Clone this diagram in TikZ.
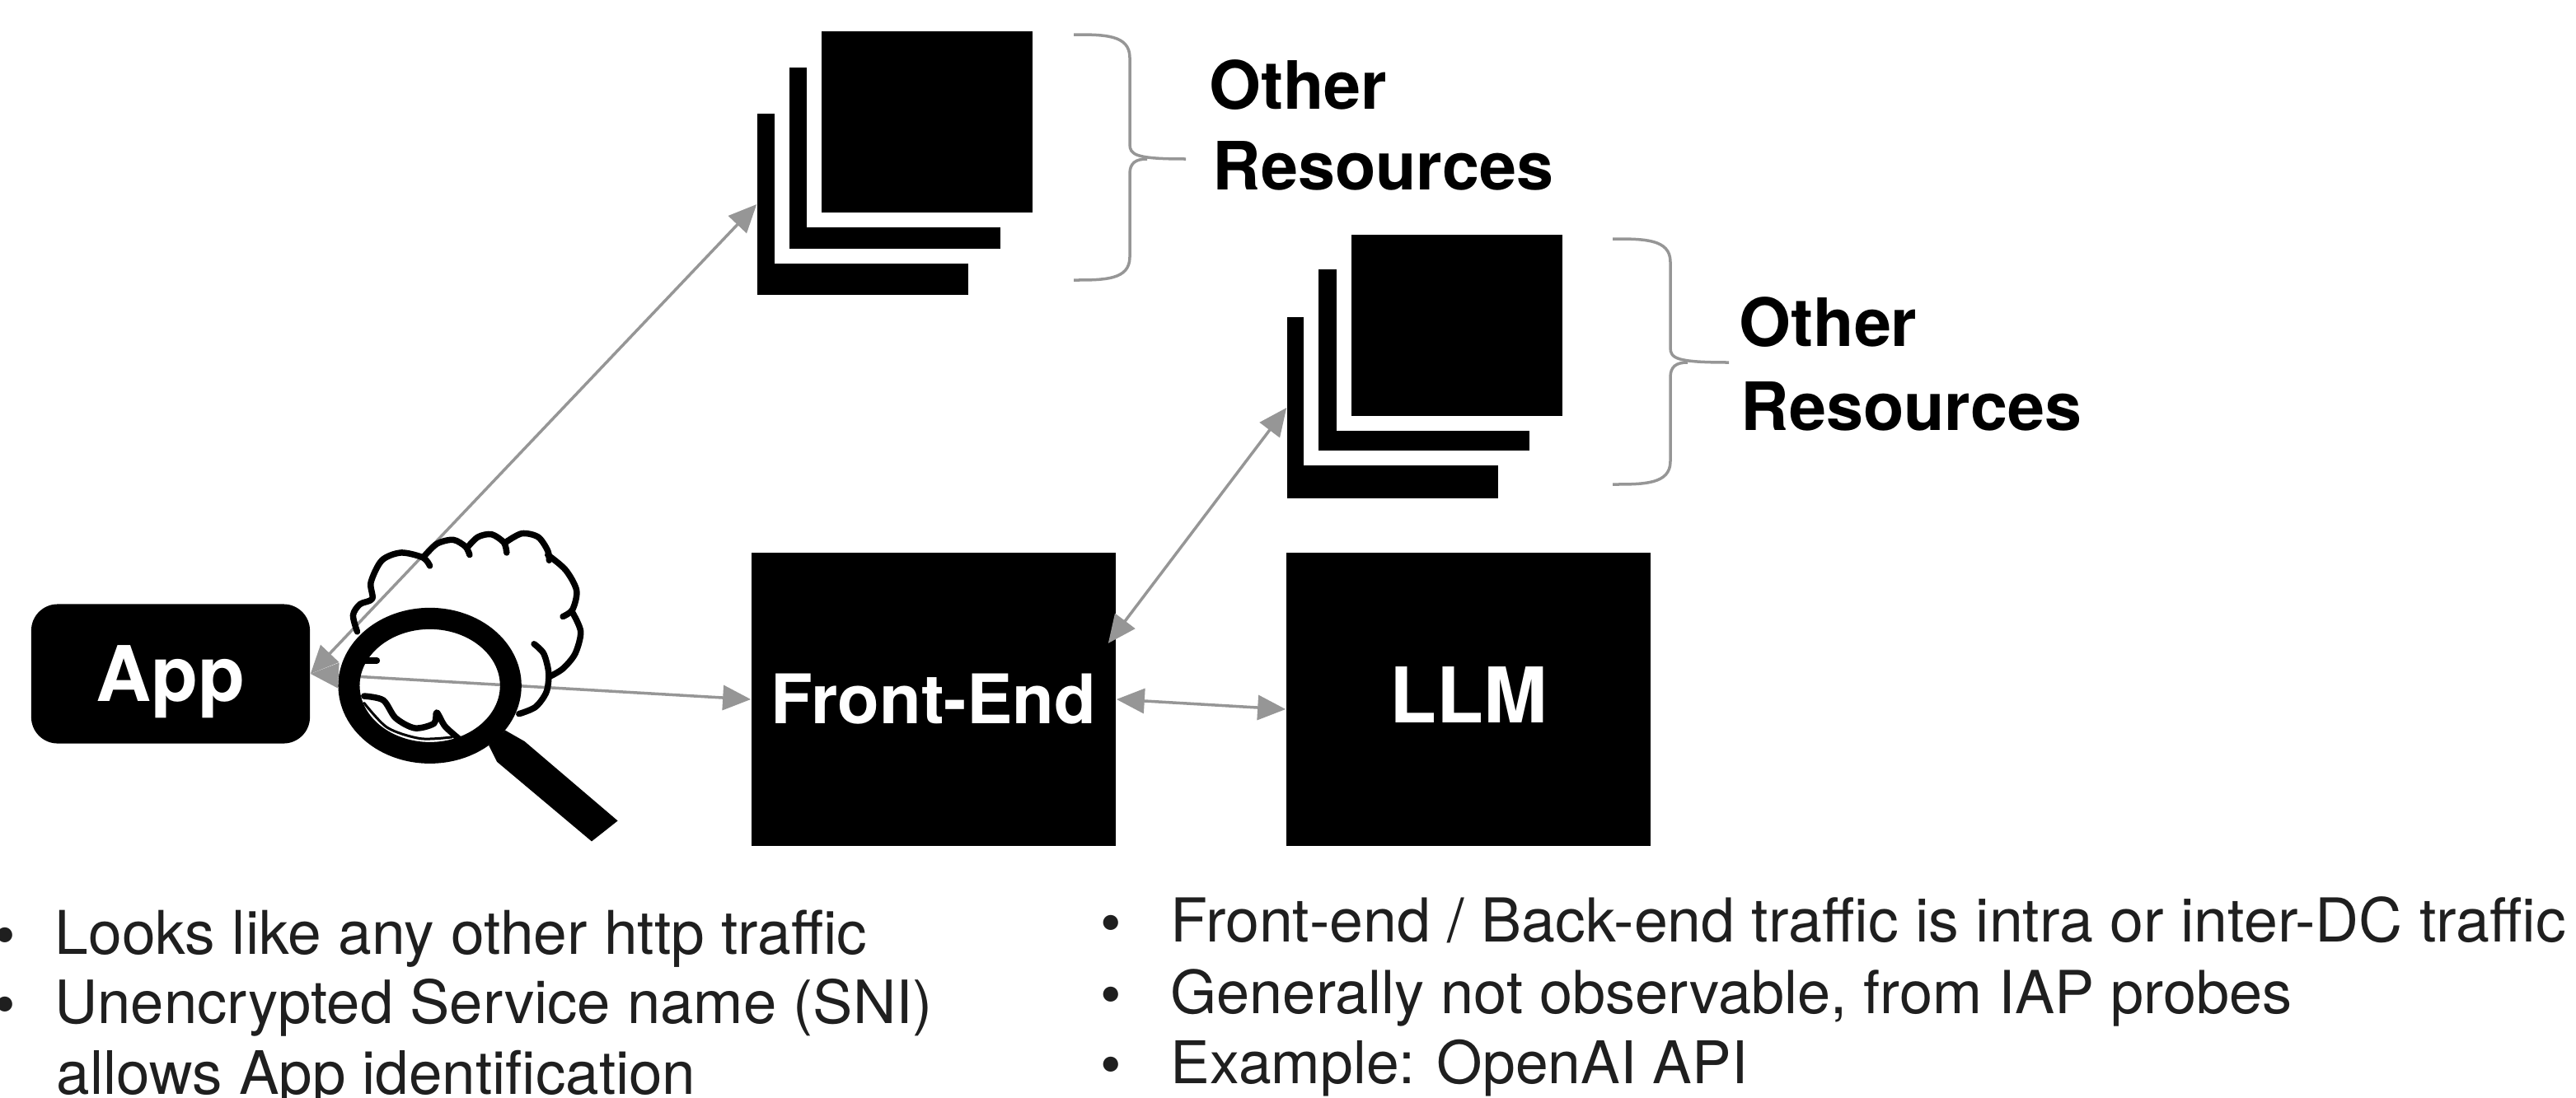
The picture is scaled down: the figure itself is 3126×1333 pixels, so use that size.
\documentclass[tikz,border=0pt]{standalone}
\usepackage{fontspec}
\setmainfont{TeX Gyre Heros}
\usetikzlibrary{arrows.meta}
\definecolor{linkgray}{HTML}{969696}
\tikzset{
  sheet/.style={preaction={draw=white,line width=.36cm},fill=black,inner sep=0pt,minimum width=2.56cm,minimum height=2.2cm},
  tile/.style={fill=black,text=white,inner sep=0pt,font=\bfseries\fontsize{26.5}{30}\selectfont,minimum width=4.42cm,minimum height=3.55cm},
  link/.style={linkgray,line width=.035cm,{Triangle[length=.34cm,width=.3cm]}-{Triangle[length=.34cm,width=.3cm]}},
  curly/.style={linkgray,line width=.035cm,line join=round},
  reslabel/.style={anchor=base west,inner sep=0pt,font=\bfseries\fontsize{23}{28}\selectfont},
  bullettext/.style={anchor=base west,inner sep=0pt,text=black!88,font=\fontsize{#1}{24}\selectfont},
  bullettext/.default=20.7,
  cloudline/.style={line width=.075cm,line cap=round,line join=round}
}
\begin{document}
\begin{tikzpicture}[x=.01cm,y=-.01cm]
\useasboundingbox (0,0) rectangle (3126,1333);
% the two stacks of resources, drawn from the back to the front
\node[sheet] (resa3) at (1047,248) {};
\node[sheet] (resa2) at (1086,192) {};
\node[sheet] (resa1) at (1125,148) {};
\node[sheet] (resb3) at (1690,495) {};
\node[sheet] (resb2) at (1728,437) {};
\node[sheet] (resb1) at (1768,395) {};
% the boxes on the middle row
\node[tile,rounded corners=.32cm,minimum width=3.38cm,minimum height=1.69cm,text depth=0pt] (app) at (207,818) {App};
\node[tile,font=\bfseries\fontsize{23.6}{26}\selectfont] (fe) at (1133,849) {Front-End};
\node[tile,text depth=.1cm] (llm) at (1782,849) {LLM};
% the maps between them
\draw[link] (app.east) -- (resa3.west);
\draw[link] (app.east) -- (fe.west);
\draw[link] (fe.east) -- ([yshift=-.12cm]llm.west);
\draw[link] ([shift={(-.1cm,.68cm)}]fe.east) -- (resb3.west);
% braces, each one closed by a short tick towards its label
\coordinate (bracea) at (1439,193);
\coordinate (braceb) at (2098,440);
\draw[curly] (1303,42) .. controls (1340,42) and (1371,42) .. (1371,70) -- (1371,175) .. controls (1371,188) and (1378,193) .. (bracea);
\draw[curly] (1303,340) .. controls (1340,340) and (1371,340) .. (1371,312) -- (1371,211) .. controls (1371,198) and (1378,193) .. (1392,193);
\draw[curly] (1957,290) .. controls (1995,290) and (2027,290) .. (2027,318) -- (2027,422) .. controls (2027,435) and (2034,440) .. (braceb);
\draw[curly] (1957,588) .. controls (1995,588) and (2027,588) .. (2027,560) -- (2027,458) .. controls (2027,445) and (2034,440) .. (2048,440);
\node[reslabel] (othera) at (1467,132) {Other};
\node[reslabel] (resourcesa) at (1471,230) {Resources};
\node[reslabel] (otherb) at (2110,420) {Other};
\node[reslabel] (resourcesb) at (2112,522) {Resources};
% cloud and magnifier, in coordinates of a 3x crop of the lens
\begin{scope}[shift={(3.70cm,-6.30cm)},x=.003333cm,y=-.003333cm]
\draw[cloudline] plot[smooth] coordinates {(190,410) (175,350) (200,310) (245,290) (240,230) (280,150) (350,122) (430,140) (455,170)};
\draw[cloudline] plot[smooth] coordinates {(430,140) (480,90) (540,75) (585,100) (600,130)};
\draw[cloudline] plot[smooth] coordinates {(590,105) (630,65) (680,55) (725,85) (735,122)};
\draw[cloudline] plot[smooth] coordinates {(730,85) (790,52) (850,65) (885,115) (890,150)};
\draw[cloudline] plot[smooth] coordinates {(885,130) (950,185) (990,260) (975,330) (940,355)};
\draw[cloudline] plot[smooth] coordinates {(975,340) (1005,410) (985,490) (940,545) (890,575)};
\draw[cloudline] plot[smooth] coordinates {(835,455) (870,490) (888,560) (880,630) (840,685) (780,710)};
\draw[cloudline] plot[smooth] coordinates {(220,515) (262,515)};
\draw[cloudline] plot[smooth] coordinates {(215,645) (285,660) (330,725) (400,762) (470,745) (480,705) (510,755) (560,800)};
\draw[line width=.03cm,line cap=round] plot[smooth] coordinates {(215,670) (300,760) (420,800) (535,795)};
\draw[line width=.26cm] (455,607) ellipse (295 and 245);
\fill (670,825) -- (730,770) -- (800,810) -- (1140,1100) -- (1045,1175) -- (700,885) -- cycle;
\end{scope}
% the notes under the picture, the size differs a little per line
\foreach \ypos/\fsize/\note in {1158/20.8/{Looks like any other http traffic},1242/20.6/{Unencrypted Service name (SNI)}} {
\node[bullettext] at (-7,\ypos-15) [anchor=west] {•};
\node[bullettext=\fsize] at (66,\ypos) {\note};
}
\node[bullettext] (allows) at (68,1328) {allows App identification};
\foreach \ypos/\fsize/\note in {1143/20.9/{Front-end / Back-end traffic is intra or inter-DC traffic},1230/20.5/{Generally not observable, from IAP probes},1315/20.3/{Example: OpenAI API}} {
\node[bullettext] at (1335,\ypos-15) [anchor=west] {•};
\node[bullettext=\fsize] at (1420,\ypos) {\note};
}
\end{tikzpicture}
\end{document}
